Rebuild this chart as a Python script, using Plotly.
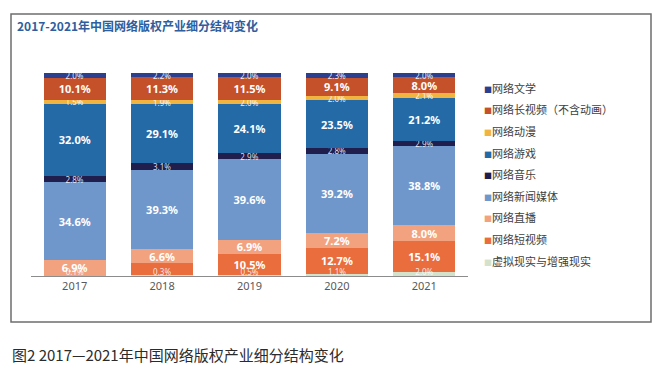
import plotly.graph_objects as go

years = ["2017", "2018", "2019", "2020", "2021"]

lit = [2.0, 2.2, 2.0, 2.3, 2.0]           # 网络文学
long_video = [10.1, 11.3, 11.5, 9.1, 8.0]  # 网络长视频（不含动画）
anime = [1.5, 1.9, 2.0, 2.0, 2.1]          # 网络动漫
games = [32.0, 29.1, 24.1, 23.5, 21.2]     # 网络游戏
music = [2.8, 3.1, 2.9, 2.8, 2.9]          # 网络音乐
news = [34.6, 39.3, 39.6, 39.2, 38.8]      # 网络新闻媒体
live = [6.9, 6.6, 6.9, 7.2, 8.0]           # 网络直播
short_video = [0.0, 6.2, 10.5, 12.7, 15.1] # 网络短视频
vr = [0.1, 0.3, 0.5, 1.1, 2.0]             # 虚拟现实与增强现实

short_labels = ["", "", "10.5%", "12.7%", "15.1%"]
vr_labels = [f"{v:.1f}%" for v in vr]

# bottom -> top stacking order
series = [
    ("虚拟现实与增强现实", vr, "#D4E2CB", [""] * 5, 8, "normal", "rgba(255,255,255,0.85)"),
    ("网络短视频", short_video, "#EA6D3E", short_labels, 11, "bold", "white"),
    ("网络直播", live, "#F2A27F", None, 11, "bold", "white"),
    ("网络新闻媒体", news, "#7097CB", None, 11, "bold", "white"),
    ("网络音乐", music, "#1F1E4D", None, 8, "normal", "rgba(255,255,255,0.85)"),
    ("网络游戏", games, "#236AA6", None, 11, "bold", "white"),
    ("网络动漫", anime, "#F2B441", None, 8, "normal", "rgba(255,255,255,0.9)"),
    ("网络长视频（不含动画）", long_video, "#C5512B", None, 11, "bold", "white"),
    ("网络文学", lit, "#2C3F8F", None, 8, "normal", "rgba(255,255,255,0.9)"),
]

# page body has an 8px margin: figure is drawn at (8, 8)
OFF = 8
W, H = 660 - OFF, 381 - OFF
PLOT_L, PLOT_R, PLOT_T, PLOT_B = 31, 468, 73, 276   # reference pixel coords
ML, MR = PLOT_L - OFF, W - (PLOT_R - OFF)
MT, MB = PLOT_T - OFF, H - (PLOT_B - OFF)
PW, PH = PLOT_R - PLOT_L, PLOT_B - PLOT_T


def px_x(p):
    return (p - PLOT_L) / PW


def px_y(p):
    return (PLOT_B - p) / PH


fig = go.Figure()
for i, (name, vals, color, labels, fsize, fweight, fcolor) in enumerate(series):
    txt = labels if labels is not None else [f"{v:.1f}%" for v in vals]
    fig.add_trace(go.Bar(
        x=years, y=vals, name=name, marker=dict(color=color, line=dict(width=0)),
        text=txt, textposition="inside", insidetextanchor="middle",
        textangle=0, constraintext="none",
        textfont=dict(size=fsize, color=fcolor, weight=fweight,
                      family="Noto Sans, DejaVu Sans, sans-serif"),
        showlegend=False, hoverinfo="skip",
    ))

# labels of the thin bottom segment, sitting on the baseline
fig.add_trace(go.Scatter(
    x=years, y=[1.4] * len(years), mode="text", text=vr_labels,
    textposition="middle center",
    textfont=dict(size=8, color="rgba(255,255,255,0.85)", family="Noto Sans, sans-serif"),
    showlegend=False, hoverinfo="skip",
))

# legend entries, listed top to bottom; square glyph drawn in the label text
for i, (name, vals, color, *_rest) in enumerate(reversed(series)):
    fig.add_trace(go.Scatter(
        x=[None], y=[None], mode="markers",
        name=f"<span style='color:{color};font-size:8px'>■</span>{name}",
        marker=dict(symbol="square", size=1, color="rgba(0,0,0,0)"),
        legendgroup=f"g{i}", showlegend=True,
    ))

fig.update_layout(
    width=W, height=H,
    margin=dict(l=ML, r=MR, t=MT, b=MB),
    barmode="stack", barnorm="percent", bargap=0.29,
    uniformtext=dict(mode=False),
    paper_bgcolor="white", plot_bgcolor="white",
    font=dict(family="Noto Sans CJK SC, Noto Sans, sans-serif", color="#404040"),
    xaxis=dict(
        range=[-0.5, 4.5], showline=True, linecolor="#8C8C8C", linewidth=1,
        ticks="", tickfont=dict(size=11, color="#595959", family="Noto Sans, sans-serif"),
        showgrid=False, zeroline=False, fixedrange=True,
    ),
    yaxis=dict(range=[0, 100], visible=False, showgrid=False, zeroline=False),
    legend=dict(
        x=px_x(484 - 40), y=px_y(74), xanchor="left", yanchor="top",
        traceorder="grouped", tracegroupgap=2.6, itemwidth=30, maxheight=1,
        font=dict(size=11, color="#404040", family="Noto Sans CJK SC, sans-serif"),
        bgcolor="rgba(0,0,0,0)",
    ),
    showlegend=True,
)

# outer frame
fig.add_shape(type="rect", xref="paper", yref="paper",
              x0=px_x(11), x1=px_x(651), y0=px_y(322), y1=px_y(14),
              line=dict(color="#6E6E6E", width=1.5), fillcolor="rgba(0,0,0,0)", layer="below")

# inner chart title
fig.add_annotation(xref="paper", yref="paper", x=px_x(15), y=px_y(26),
                   xanchor="left", yanchor="middle", showarrow=False,
                   text="<b>2017-2021年中国网络版权产业细分结构变化</b>",
                   font=dict(size=12, color="#2E5E9E", family="Noto Sans CJK SC, sans-serif"))

# figure caption
fig.add_annotation(xref="paper", yref="paper", x=px_x(10), y=px_y(354),
                   xanchor="left", yanchor="middle", showarrow=False,
                   text="图2 2017—2021年中国网络版权产业细分结构变化",
                   font=dict(size=15, color="#2B2B2B", family="Noto Sans CJK SC, sans-serif"))

fig.write_html("out.html")
